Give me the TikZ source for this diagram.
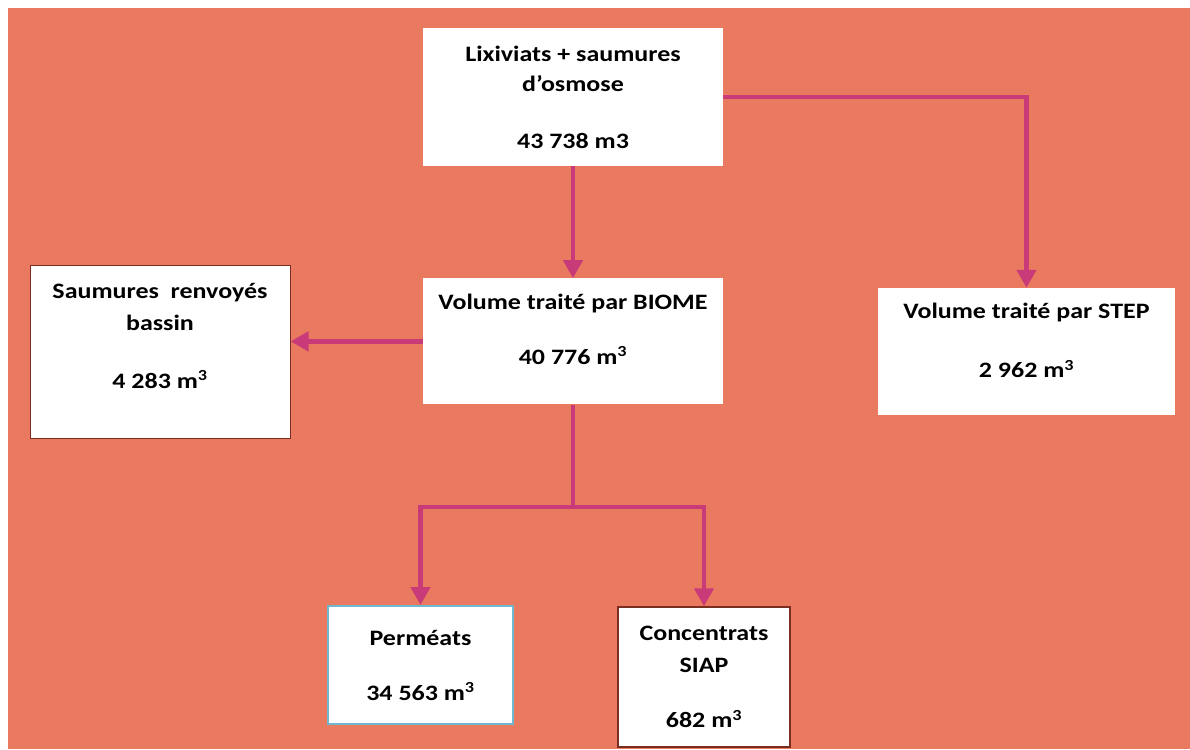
\documentclass[tikz,border=0pt]{standalone}
\usepackage{fontspec}
\setmainfont{Carlito}[FakeStretch=1.18]
\usetikzlibrary{arrows.meta,positioning,calc}
\definecolor{bgorange}{HTML}{E97A5F}
\definecolor{flowpink}{HTML}{C93A78}
\definecolor{edgebrown}{HTML}{7A2E22}
\definecolor{edgeblue}{HTML}{6FB8CF}

\begin{document}
\begin{tikzpicture}[
    x=1pt, y=-1pt,
    box/.style={rectangle, fill=white, align=center, inner sep=0pt,
                font=\fontsize{22}{26}\selectfont\bfseries},
    pipe/.style={draw=flowpink, line width=4.5pt},
    flow/.style={pipe, -{Triangle[length=18pt,width=19pt]}},
    >=Stealth
]
% background panel
\useasboundingbox (0,0) rectangle (1190,749);
\fill[bgorange] (8,8) rectangle (1190,749);

\node[box, minimum width=300, minimum height=138] (lix) at (573,97)
    {Lixiviats + saumures\\[4pt]d’osmose\\[31pt]43 738 m3};
\node[box, minimum width=300, minimum height=126, below=112pt of lix] (biome)
    {Volume traité par BIOME\\[29pt]40 776 m\textsuperscript{3}\\[-1pt]\mbox{}};
\node[box, draw=edgebrown, line width=1pt, minimum width=260, minimum height=173] (saum) at (160,351.5)
    {Saumures\ \ renvoyés\\[6pt]bassin\\[32pt]4 283 m\textsuperscript{3}\\[6pt]\mbox{}};
\node[box, minimum width=297, minimum height=127] (step) at (1026.5,351.5)
    {Volume traité par STEP\\[33pt]2 962 m\textsuperscript{3}\\[-4pt]\mbox{}};
\node[box, draw=edgeblue, line width=2pt, minimum width=185, minimum height=118] (perm) at (420.5,665)
    {Perméats\\[29pt]34 563 m\textsuperscript{3}};
\node[box, draw=edgebrown, line width=1.5pt, minimum width=172, minimum height=140] (conc) at (704,677)
    {Concentrats\\[6pt]SIAP\\[29pt]682 m\textsuperscript{3}};

\coordinate (split) at (573,507);

\draw[flow] (lix) -- (biome);
\draw[flow] (lix.east) -| (step.north);
\draw[flow] (biome.west) -- (biome.west -| saum.east);
\draw[pipe] (biome.south) -- (split);
\draw[flow] (split) -| (perm.north);
\draw[flow] (split) -| (conc.north);
\end{tikzpicture}
\end{document}
